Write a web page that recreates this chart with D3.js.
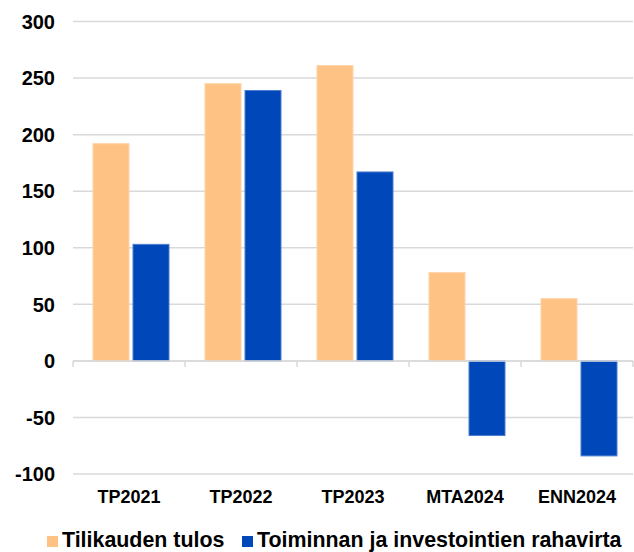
<!DOCTYPE html>
<html>
<head>
<meta charset="utf-8">
<script src="https://cdn.jsdelivr.net/npm/d3@7"></script>
<style>
  body { margin: 0; background: #fff; }
  text { font-family: 'Liberation Sans', Arial, sans-serif; font-weight: bold; fill: #000; }
</style>
</head>
<body>
<div class="chart"></div>
<script>
// DATA ------------------------------
const categories = ['TP2021', 'TP2022', 'TP2023', 'MTA2024', 'ENN2024'];
const seriesNames = ['Tilikauden tulos', 'Toiminnan ja investointien rahavirta'];
const tulos = [192, 245, 261, 78, 55];
const rahavirta = [103, 239, 167, -66, -84];
const yTicks = [-100, -50, 0, 50, 100, 150, 200, 250, 300];

const colors = ['#FFC285', '#0047BA'];
const strokes = ['#FFD3A6', '#4D7FD0'];

// CHART INIT ------------------------------
const width = 634;
const height = 552;
const plot = { left: 73, right: 633, top: 21.5, bottom: 474 };

const svg = d3
  .select('.chart')
  .append('svg')
  .attr('width', width)
  .attr('height', height);

const xScale = d3.scaleBand().domain(categories).range([plot.left, plot.right]);
const xInner = d3
  .scaleBand()
  .domain(seriesNames)
  .range([20, 96])
  .paddingInner(0.1);
const yScale = d3.scaleLinear().domain([-100, 300]).range([plot.bottom, plot.top]);

// gridlines
svg
  .append('g')
  .selectAll('line')
  .data(yTicks)
  .enter()
  .append('line')
  .attr('x1', plot.left)
  .attr('x2', plot.right)
  .attr('y1', (d) => yScale(d))
  .attr('y2', (d) => yScale(d))
  .attr('stroke', '#d9d9d9')
  .attr('stroke-width', 1.5);

// y labels
svg
  .append('g')
  .selectAll('text')
  .data(yTicks)
  .enter()
  .append('text')
  .attr('x', 55)
  .attr('y', (d) => yScale(d))
  .attr('dy', '0.36em')
  .attr('text-anchor', 'end')
  .attr('font-size', 20)
  .text((d) => d);

// bars
const rows = categories.map((c, i) => ({ cat: c, values: [tulos[i], rahavirta[i]] }));

const groups = svg
  .append('g')
  .selectAll('g')
  .data(rows)
  .enter()
  .append('g')
  .attr('transform', (d) => 'translate(' + xScale(d.cat) + ',0)');

groups
  .selectAll('rect')
  .data((d) => d.values.map((v, j) => ({ name: seriesNames[j], v: v, j: j })))
  .enter()
  .append('rect')
  .attr('x', (d) => xInner(d.name))
  .attr('y', (d) => yScale(Math.max(0, d.v)))
  .attr('width', xInner.bandwidth())
  .attr('height', (d) => Math.abs(yScale(d.v) - yScale(0)))
  .attr('fill', (d) => colors[d.j])
  .attr('stroke', (d) => strokes[d.j])
  .attr('stroke-width', 1);

// zero axis with ticks
const axisG = svg
  .append('g')
  .attr('transform', 'translate(0,' + yScale(0) + ')');
axisG
  .append('line')
  .attr('x1', plot.left)
  .attr('x2', plot.right)
  .attr('stroke', '#d9d9d9')
  .attr('stroke-width', 1.5);
const boundaries = categories.map((c) => xScale(c)).concat([plot.right]);
axisG
  .selectAll('.tick-mark')
  .data(boundaries)
  .enter()
  .append('line')
  .attr('class', 'tick-mark')
  .attr('x1', (d) => d)
  .attr('x2', (d) => d)
  .attr('y1', 0)
  .attr('y2', 6)
  .attr('stroke', '#d9d9d9')
  .attr('stroke-width', 1.5);

// category labels
svg
  .append('g')
  .selectAll('text')
  .data(categories)
  .enter()
  .append('text')
  .attr('x', (d) => xScale(d) + xScale.bandwidth() / 2)
  .attr('y', 503)
  .attr('text-anchor', 'middle')
  .attr('font-size', 18)
  .text((d) => d);

// legend
const legend = svg.append('g');
const legendItems = [
  { name: seriesNames[0], x: 47, color: colors[0] },
  { name: seriesNames[1], x: 242, color: colors[1] },
];
legendItems.forEach((d) => {
  legend
    .append('rect')
    .attr('x', d.x)
    .attr('y', 536)
    .attr('width', 11)
    .attr('height', 11)
    .attr('fill', d.color);
  legend
    .append('text')
    .attr('x', d.x + 15)
    .attr('y', 547)
    .attr('font-size', 21.4)
    .text(d.name);
});
</script>
</body>
</html>
